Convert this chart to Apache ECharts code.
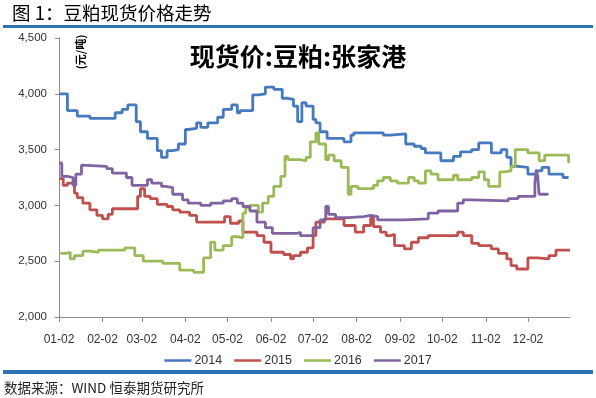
<!DOCTYPE html>
<html>
<head>
<meta charset="utf-8">
<script src="https://cdn.jsdelivr.net/npm/echarts@6/dist/echarts.min.js"></script>
<style>
html,body{margin:0;padding:0;background:#fff;}
#chart{width:596px;height:398px;}
</style>
</head>
<body>
<div id="chart"></div>
<script>
// Day index 0 = 01-02, one category per calendar day up to 01-01 of next year
const monthTickLabels = ['01-02','02-02','03-02','04-02','05-02','06-02','07-02','08-02','09-02','10-02','11-02','12-02'];
const seriesNames = ['2014','2015','2016','2017'];
const seriesColors = ['#4679BD','#C0504D','#9BBB59','#8064A2'];

// [day index, price (元/吨)]
const s2014 = [[0,4000],[6,3850],[13,3800],[22,3780],[40,3830],[45,3860],[49,3900],[55,3750],[58,3660],[63,3600],[70,3490],[73,3430],[77,3490],[81,3500],[85,3550],[90,3680],[92,3690],[98,3740],[101,3700],[106,3740],[113,3790],[117,3860],[123,3900],[127,3830],[129,3850],[138,3990],[142,4000],[147,4060],[153,4040],[159,3960],[163,3950],[167,3890],[170,3750],[173,3920],[176,3890],[181,3770],[183,3740],[186,3660],[191,3600],[203,3570],[208,3630],[210,3650],[231,3630],[236,3640],[247,3550],[253,3530],[258,3510],[261,3470],[272,3400],[281,3440],[286,3480],[294,3500],[299,3560],[308,3470],[315,3500],[319,3430],[322,3350],[327,3340],[334,3280],[340,3310],[344,3340],[349,3280],[359,3250],[363,3250]];
const s2015 = [[0,3240],[3,3180],[6,3200],[11,3110],[13,3070],[17,3020],[22,2960],[27,2910],[31,2880],[35,2920],[38,2970],[56,3080],[58,3150],[61,3080],[65,3060],[70,3010],[77,2990],[81,2960],[86,2940],[93,2910],[98,2850],[118,2900],[122,2840],[128,2860],[131,2760],[141,2730],[146,2670],[151,2580],[160,2560],[165,2520],[167,2550],[172,2580],[177,2620],[181,2730],[183,2850],[189,2880],[203,2820],[211,2760],[217,2820],[222,2890],[224,2810],[229,2760],[233,2730],[236,2740],[239,2640],[246,2610],[251,2670],[256,2710],[263,2730],[284,2760],[288,2730],[294,2660],[299,2640],[308,2610],[313,2570],[319,2520],[322,2460],[326,2430],[334,2530],[341,2520],[349,2550],[354,2600],[364,2600]];
const s2016 = [[1,2570],[5,2580],[8,2520],[11,2550],[17,2590],[22,2580],[28,2600],[47,2620],[54,2550],[60,2500],[74,2480],[86,2420],[96,2400],[103,2530],[108,2670],[111,2600],[117,2640],[123,2720],[127,2710],[131,2930],[133,2980],[136,3000],[142,2940],[145,3020],[149,3080],[153,3170],[158,3260],[161,3440],[163,3410],[172,3400],[176,3430],[179,3570],[183,3650],[185,3550],[190,3410],[192,3450],[196,3400],[201,3340],[206,3100],[208,3170],[213,3150],[224,3180],[227,3220],[231,3250],[236,3220],[241,3200],[249,3250],[253,3220],[256,3200],[261,3310],[265,3280],[270,3230],[281,3270],[284,3230],[294,3250],[299,3300],[303,3230],[306,3170],[314,3300],[317,3310],[322,3350],[325,3500],[334,3470],[342,3400],[346,3450],[363,3390],[364,3390]];
const s2017 = [[0,3380],[2,3260],[6,3250],[10,3180],[12,3280],[16,3360],[17,3350],[34,3330],[38,3290],[48,3250],[52,3180],[63,3230],[66,3200],[73,3170],[76,3160],[81,3100],[88,3050],[92,3020],[101,3000],[108,3020],[117,3040],[123,3060],[127,3020],[131,2990],[136,2950],[141,2850],[147,2800],[152,2750],[170,2760],[172,2730],[181,2800],[186,2870],[190,2990],[192,2920],[197,2890],[206,2900],[217,2910],[222,2900],[227,2870],[246,2880],[263,2930],[270,2950],[284,3020],[288,3050],[294,3040],[320,3060],[327,3080],[339,3200],[340,3320],[341,3260],[342,3100],[348,3090]];

// build day categories (MM-DD) for a non-leap year starting 01-02
const categories = [];
for (let i = 0; i < 365; i++) {
  const d = new Date(Date.UTC(2017, 0, 2 + i));
  const mm = String(d.getUTCMonth() + 1).padStart(2, '0');
  const dd = String(d.getUTCDate()).padStart(2, '0');
  categories.push(mm + '-' + dd);
}
const showTick = (idx, val) => monthTickLabels.indexOf(val) >= 0 && idx < 364;

const chart = echarts.init(document.getElementById('chart'), null, {renderer: 'canvas'});
const dataSets = [s2014, s2015, s2016, s2017];
chart.setOption({
  animation: false,
  backgroundColor: '#fff',
  title: {
    text: '现货价:豆粕:张家港',
    left: 'center',
    top: 39,
    textStyle: {fontFamily: 'Noto Sans CJK SC', fontSize: 25, fontWeight: 'bold', color: '#000'}
  },
  legend: {
    data: seriesNames,
    bottom: 26,
    left: 'center',
    icon: 'rect',
    itemWidth: 27,
    itemHeight: 2.5,
    itemGap: 12,
    textStyle: {fontFamily: 'Liberation Sans', fontSize: 12.5, color: '#333', padding: [0,0,0,-2]}
  },
  grid: {left: 59, right: 26, top: 38, bottom: 81},
  xAxis: {
    type: 'category',
    data: categories,
    boundaryGap: false,
    axisLine: {lineStyle: {color: '#8c8c8c', width: 1}},
    axisTick: {show: true, interval: showTick, length: 5, lineStyle: {color: '#8c8c8c'}},
    axisLabel: {interval: showTick, margin: 17, fontFamily: 'Liberation Sans', fontSize: 12, color: '#333'},
    splitLine: {show: false}
  },
  yAxis: {
    type: 'value',
    min: 2000,
    max: 4500,
    interval: 500,
    axisLine: {show: true, lineStyle: {color: '#8c8c8c', width: 1}},
    axisTick: {show: true, length: 4, lineStyle: {color: '#8c8c8c'}},
    axisLabel: {margin: 12, fontFamily: 'Liberation Sans', fontSize: 11.5, color: '#333',
      formatter: v => v.toLocaleString('en-US')},
    splitLine: {show: false}
  },
  series: seriesNames.map((name, i) => ({
    name: name,
    type: 'line',
    step: 'end',
    data: dataSets[i],
    showSymbol: false,
    symbol: 'none',
    color: seriesColors[i],
    lineStyle: {width: 2.8, color: seriesColors[i]}
  })),
  graphic: [
    {type: 'text', left: 12, top: 4, style: {text: '图 1：豆粕现货价格走势', fontFamily: 'Noto Sans CJK SC', fontSize: 18.5, fill: '#000'}},
    {type: 'rect', shape: {x: 3, y: 25, width: 590, height: 3}, style: {fill: '#2E74B5'}},
    {type: 'rect', shape: {x: 3, y: 370, width: 590, height: 4}, style: {fill: '#2E74B5'}},
    {type: 'text', left: 4, top: 381, style: {text: '数据来源：WIND 恒泰期货研究所', fontFamily: 'Noto Sans CJK SC', fontSize: 13.5, fill: '#222'}},
    {type: 'text', x: 81, y: 52, rotation: Math.PI / 2,
      style: {text: '(元/吨)', fontFamily: 'Noto Sans CJK SC', fontSize: 11, fontWeight: 'bold', fill: '#000', align: 'center', verticalAlign: 'middle'}}
  ]
});
</script>
</body>
</html>
